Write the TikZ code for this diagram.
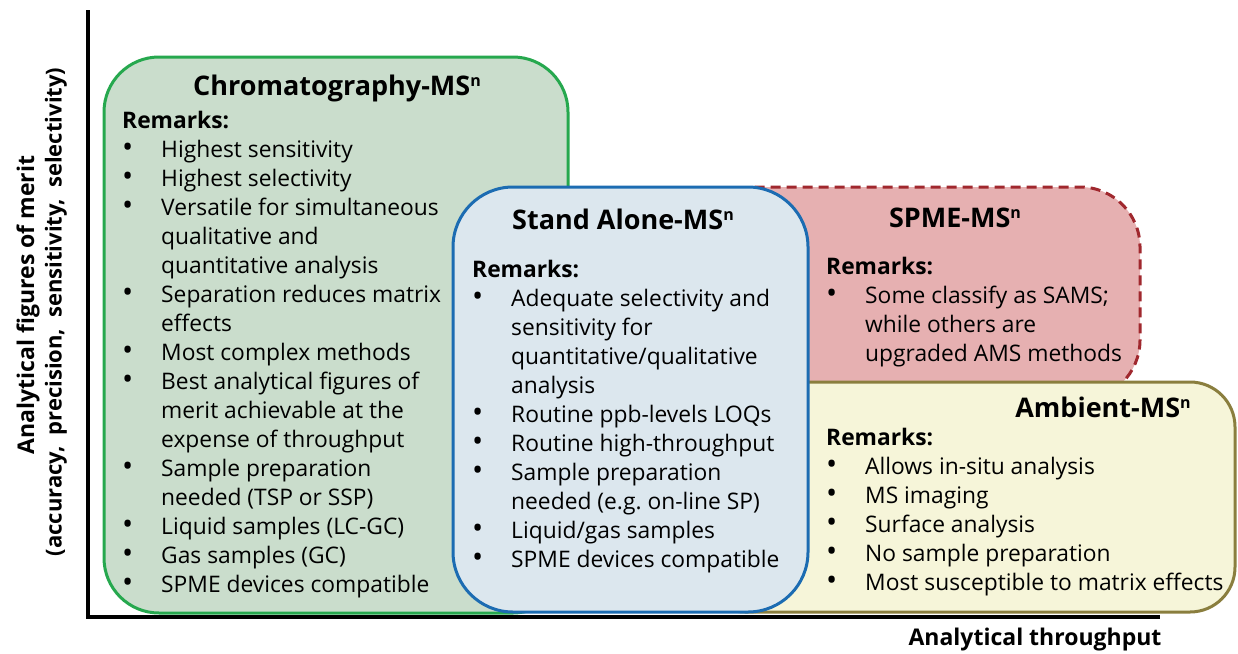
\documentclass[tikz,border=0pt]{standalone}
\usepackage{fontspec}
\usepackage{array}
\usepackage{graphicx}
\setmainfont{Open Sans}

\definecolor{chromfill}{RGB}{202,221,204}
\definecolor{chromline}{RGB}{38,168,78}
\definecolor{safill}{RGB}{220,231,238}
\definecolor{saline}{RGB}{28,108,178}
\definecolor{spmefill}{RGB}{230,176,177}
\definecolor{spmeline}{RGB}{160,40,46}
\definecolor{ambfill}{RGB}{246,245,217}
\definecolor{ambline}{RGB}{138,126,62}

\newcommand\bodyfont{\fontsize{22.8}{29}\selectfont}
% MS to the n, with a small n sitting at cap height
\newcommand\msn{MS\raisebox{9pt}{\fontsize{16}{16}\selectfont n}}
% bullet line and continuation line of a remarks list
\newcommand\itm{\scalebox{1.3}{\textbullet} &}
\newcommand\cnt{&}
\newcommand\remarklist[1]{%
  \begin{tabular}[t]{@{}p{39pt}@{}l@{}}
    \multicolumn{2}{@{}l@{}}{\bfseries Remarks:}\\
    #1
  \end{tabular}}

\tikzset{
  box/.style={line width=3pt, rounded corners=#1},
  title/.style={anchor=base, inner sep=0pt, font=\fontsize{27}{30}\selectfont\bfseries},
  remarks/.style={anchor=base west, inner sep=0pt, font=\bodyfont},
  axislabel/.style={inner sep=0pt, font=\fontsize{23}{26}\selectfont\bfseries}
}

\begin{document}
\begin{tikzpicture}[x=1pt, y=-1pt]
    \useasboundingbox (0,0) rectangle (1238,653);

    % axes
    \coordinate (top) at (88,10);
    \coordinate (origin) at (88,617);
    \coordinate (right) at (1160,617);
    \draw [line width=4pt] (top) -- (origin) -- (right);

    % the four groups, back to front
    \draw [box=55pt, draw=chromline, fill=chromfill] (104,57) rectangle (568,613);
    \draw [box=60pt, draw=spmeline, fill=spmefill, dash pattern=on 10pt off 6pt]
        (700,187) rectangle (1140,400);
    \draw [box=45pt, draw=ambline, fill=ambfill] (700,382) rectangle (1235,612);
    \draw [box=60pt, draw=saline, fill=safill] (453,187) rectangle (808,612);

    % titles
    \node [title] (chromtitle) at (337,95) {Chromatography-\msn};
    \node [title] (satitle) at (623,229) {Stand Alone-\msn};
    \node [title] (spmetitle) at (955,227) {SPME-\msn};
    \node [title] (ambtitle) at (1103,417) {Ambient-\msn};

    % remarks
    \node [remarks] (chrom) at (122,128) {\remarklist{
        \itm Highest sensitivity\\
        \itm Highest selectivity\\
        \itm Versatile for simultaneous\\
        \cnt qualitative and\\
        \cnt quantitative analysis\\
        \itm Separation reduces matrix\\
        \cnt effects\\
        \itm Most complex methods\\
        \itm Best analytical figures of\\
        \cnt merit achievable at the\\
        \cnt expense of throughput\\
        \itm Sample preparation\\
        \cnt needed (TSP or SSP)\\
        \itm Liquid samples (LC-GC)\\
        \itm Gas samples (GC)\\
        \itm SPME devices compatible}};
    \node [remarks] (sa) at (472,277) {\remarklist{
        \itm Adequate selectivity and\\
        \cnt sensitivity for\\
        \cnt quantitative/qualitative\\
        \cnt analysis\\
        \itm Routine ppb-levels LOQs\\
        \itm Routine high-throughput\\
        \itm Sample preparation\\
        \cnt needed (e.g.\ on-line SP)\\
        \itm Liquid/gas samples\\
        \itm SPME devices compatible}};
    \node [remarks] (spme) at (826,274) {\remarklist{
        \itm Some classify as SAMS;\\
        \cnt while others are\\
        \cnt upgraded AMS methods}};
    \node [remarks] (amb) at (826,445) {\remarklist{
        \itm Allows in-situ analysis\\
        \itm MS imaging\\
        \itm Surface analysis\\
        \itm No sample preparation\\
        \itm Most susceptible to matrix effects}};

    % axis labels
    \node [axislabel, rotate=90] (ylab) at (28,305) {Analytical figures of merit};
    \node [axislabel, rotate=90, font=\fontsize{22}{26}\selectfont\bfseries] (ylabsub) at (56,312)
        {(accuracy,\hspace{0.5em}precision,\hspace{0.5em}sensitivity,\hspace{0.5em}selectivity)};
    \node [axislabel] (xlab) at (1035,640) {Analytical throughput};
\end{tikzpicture}
\end{document}
